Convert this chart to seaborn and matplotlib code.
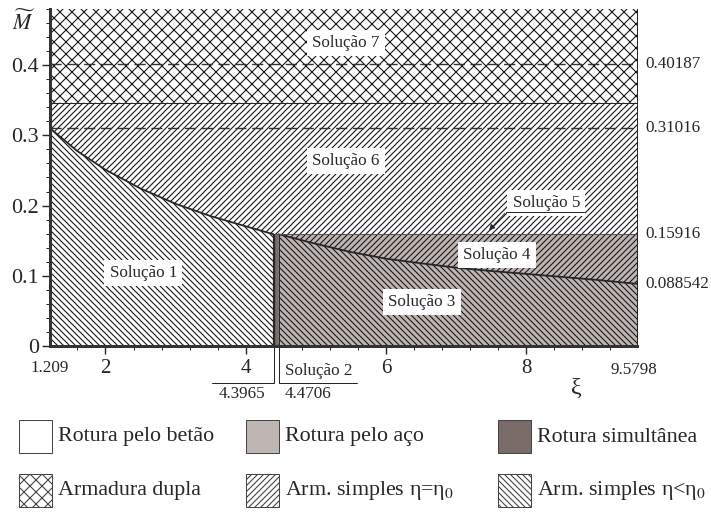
import matplotlib
matplotlib.use("Agg")
import matplotlib.pyplot as plt
import seaborn as sns
import pandas as pd
from matplotlib.patches import Rectangle
from matplotlib.ticker import MultipleLocator


# values
xi_min, xi_max = 1.209, 9.5798
xi_betao, xi_aco = 4.3965, 4.4706        # strip of simultaneous failure
m_max = 0.48
m_dupla = 0.3466                         # border Solução 7 / Solução 6
m_marks = [0.40187, 0.31016, 0.15916, 0.088542]

# concrete failure border (Solução 1 / Solução 6)
curve1_xi = [1.209, 1.6, 2.0, 2.5, 3.0, 3.5, 4.0, 4.3965]
curve1_m = [0.31016, 0.2775, 0.251, 0.2243, 0.2025, 0.185, 0.1705, 0.15916]

# steel failure border (Solução 3 / Solução 4)
curve2_xi = [4.4706, 5.0, 5.5, 6.0, 6.5, 7.0, 7.5, 8.0, 8.5, 9.0, 9.5798]
curve2_m = [0.15916, 0.1455, 0.1338, 0.1244, 0.1178, 0.1116, 0.1068,
            0.1027, 0.0985, 0.0942, 0.088542]

x_major = [2, 4, 6, 8]
y_major = [0, 0.1, 0.2, 0.3, 0.4]
y_labels = ["0", "0.1", "0.2", "0.3", "0.4"]

legend_labels = ["Rotura pelo betão", "Rotura pelo aço", "Rotura simultânea",
                 "Armadura dupla", "Arm. simples η=η$_0$", "Arm. simples η<η$_0$"]


sns.set_theme(style="ticks")
plt.rcParams["font.family"] = ["Liberation Serif", "DejaVu Serif"]
plt.rcParams["mathtext.fontset"] = "stix"
plt.rcParams["hatch.linewidth"] = 1.1

ink = "#262626"
hatch_ink = "#161616"
steel = "#bfb5b3"
both = "#786b68"
cross, fwd, back = "xx", "////", "\\\\\\\\"

fig = plt.figure(figsize=(711 / 72, 515 / 72), dpi=72)
ax = fig.add_axes([50 / 711, 169 / 515, 587 / 711, 337 / 515])

# regions
ax.fill_between([xi_min, xi_max], m_dupla, m_max, facecolor="white",
                edgecolor=hatch_ink, linewidth=0, hatch=cross)
ax.fill_between(curve1_xi + [xi_max], curve1_m + [m_marks[2]], m_dupla,
                facecolor="white", edgecolor=hatch_ink, linewidth=0, hatch=fwd)
ax.fill_between(curve1_xi, 0, curve1_m, facecolor="white",
                edgecolor=hatch_ink, linewidth=0, hatch=back)
ax.fill_between([xi_betao, xi_aco], 0, m_marks[2], facecolor=both, linewidth=0)
ax.fill_between(curve2_xi, 0, curve2_m, facecolor=steel,
                edgecolor=hatch_ink, linewidth=0, hatch=back)
ax.fill_between(curve2_xi, curve2_m, m_marks[2], facecolor=steel,
                edgecolor=hatch_ink, linewidth=0, hatch=fwd)

# borders
curves = pd.DataFrame({
    "xi": curve1_xi + curve2_xi,
    "m": curve1_m + curve2_m,
    "ramo": ["betao"] * len(curve1_xi) + ["aco"] * len(curve2_xi),
})
sns.lineplot(data=curves, x="xi", y="m", units="ramo", estimator=None,
             color=ink, linewidth=1.8, ax=ax, legend=False)

for m in m_marks[:2]:
    ax.axhline(m, color="#333333", linewidth=1.4, linestyle=(0, (8, 4)))
ax.axhline(m_dupla, color=ink, linewidth=1.0)
ax.hlines(m_marks[2], xi_betao, xi_max, color="#555555", linewidth=1.0)
ax.vlines(xi_betao, 0, m_marks[2], color=ink, linewidth=2.2)
ax.vlines(xi_aco, 0, m_marks[2], color=ink, linewidth=1.0)

# axes
ax.set_xlim(xi_min, xi_max)
ax.set_ylim(0, m_max)
ax.set_xticks(x_major)
ax.set_yticks(y_major)
ax.set_yticklabels(y_labels)
ax.xaxis.set_minor_locator(MultipleLocator(0.4))
ax.yaxis.set_minor_locator(MultipleLocator(0.02))
ax.set_xlabel("")
ax.set_ylabel("")
ax.tick_params(which="major", length=8, width=1.4, direction="out", colors=ink)
ax.tick_params(axis="y", which="major", labelsize=22, pad=3)
ax.tick_params(axis="x", which="major", labelsize=21, pad=5)
ax.tick_params(which="minor", length=4, width=1.0, direction="out", colors=ink)
ax.spines["top"].set_visible(False)
for side in ["left", "bottom"]:
    ax.spines[side].set_linewidth(3)
    ax.spines[side].set_color("#333333")
ax.spines["right"].set_linewidth(1)
ax.spines["right"].set_color(ink)

for m in m_marks:
    ax.annotate(f"{m:g}", xy=(1, m), xycoords=("axes fraction", "data"),
                xytext=(8, 0), textcoords="offset points",
                ha="left", va="center", fontsize=17, color=ink)

ax.text(xi_min, -0.031, "1.209", ha="center", va="center", fontsize=17, color=ink)
ax.text(xi_max - 0.04, -0.034, "9.5798", ha="center", va="center", fontsize=17, color=ink)
ax.text(8.714, -0.06, "ξ", ha="center", va="center", fontsize=24, color=ink)
fig.text(24 / 711, 1 - 23 / 515, r"$\widetilde{M}$", ha="center", va="center",
         fontsize=22, color=ink)

# solution labels
box = dict(boxstyle="square,pad=0.3", facecolor="white", edgecolor="none")
ax.text(5.426, 0.4316, "Solução 7", ha="center", va="center", fontsize=17, color=ink, bbox=box)
ax.text(5.426, 0.2635, "Solução 6", ha="center", va="center", fontsize=17, color=ink, bbox=box)
ax.text(2.538, 0.104, "Solução 1", ha="center", va="center", fontsize=17, color=ink, bbox=box)
ax.text(6.513, 0.0631, "Solução 3", ha="center", va="center", fontsize=17, color=ink, bbox=box)
ax.text(7.585, 0.1296, "Solução 4", ha="center", va="center", fontsize=17, color=ink, bbox=box)
ax.text(8.285, 0.2033, "Solução 5", ha="center", va="center", fontsize=17, color=ink, bbox=box)
ax.plot([7.714, 8.829], [0.1909, 0.1909], color=ink, linewidth=1.0, zorder=4)
ax.annotate("", xy=(7.45, 0.1625), xytext=(7.714, 0.1909),
            arrowprops=dict(arrowstyle="-|>", color=ink, lw=1.0, mutation_scale=12))

# Solução 2 callout under the axis
ax.plot([xi_betao, xi_betao, 3.521], [0, -0.0523, -0.0523], color=ink,
        linewidth=1.0, clip_on=False)
ax.plot([xi_aco, xi_aco, 5.594], [0, -0.0523, -0.0523], color=ink,
        linewidth=1.0, clip_on=False)
ax.text(4.56, -0.0352, "Solução 2", ha="left", va="center", fontsize=17, color=ink)
ax.text(3.947, -0.0684, "4.3965", ha="center", va="center", fontsize=17, color=ink)
ax.text(4.89, -0.0684, "4.4706", ha="center", va="center", fontsize=17, color=ink)

# legend drawn in pixel space
lax = fig.add_axes([0, 0, 1, 1], zorder=-1)
lax.set_xlim(0, 711)
lax.set_ylim(515, 0)
lax.axis("off")
faces = ["white", steel, both, "white", "white", "white"]
hatches = [None, None, None, cross, fwd, back]
col_x = [19, 246, 498]
row_y = [420, 474]
for i, label in enumerate(legend_labels):
    row, col = divmod(i, 3)
    lax.add_patch(Rectangle((col_x[col], row_y[row]), 33, 33, facecolor=faces[i],
                            edgecolor="#444444", linewidth=1, hatch=hatches[i]))
    lax.text(col_x[col] + 39, row_y[row] + 17, label, ha="left", va="center",
             fontsize=22, color=ink)

fig.savefig("out.png", dpi=72)
